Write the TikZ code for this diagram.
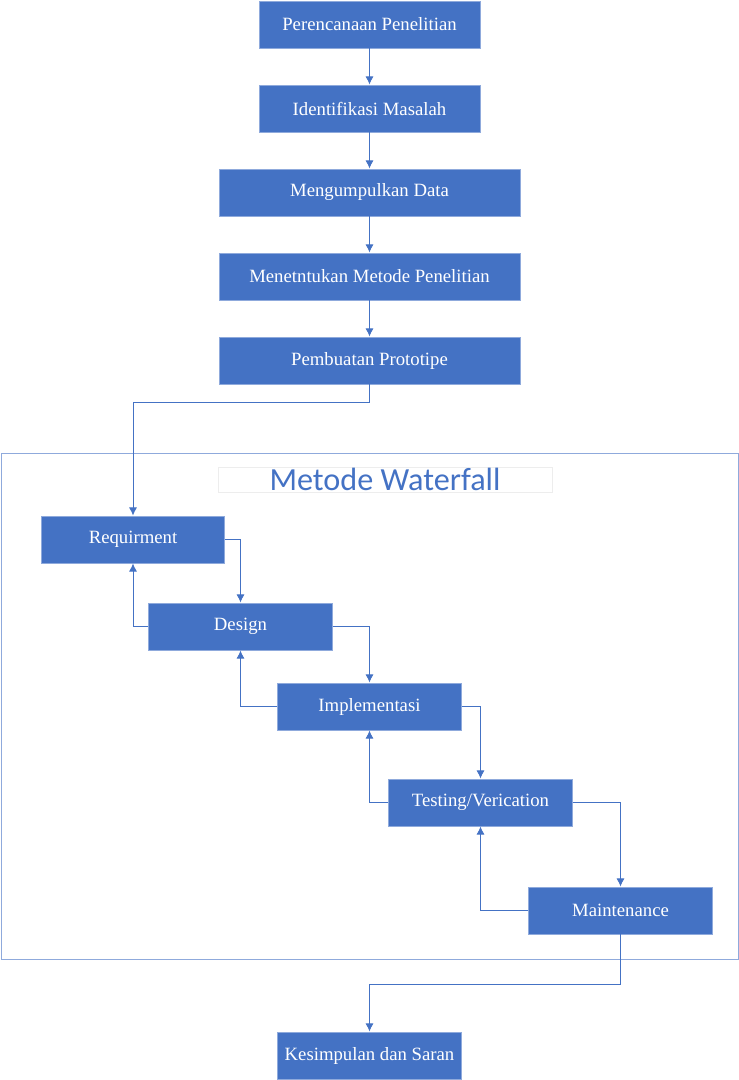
\documentclass[tikz,border=0pt]{standalone}
\usepackage{fontspec}
\setmainfont{Liberation Serif}
\newfontfamily\titlefont{Carlito}
\usetikzlibrary{arrows.meta, positioning}
\definecolor{boxblue}{HTML}{4472C4}
\definecolor{edgeblue}{HTML}{8FAADC}
\definecolor{titleedge}{HTML}{EDEDED}
\tikzset{
  >=latex,
  % Kotak tahapan
  step box/.style={draw=edgeblue, fill=boxblue, text=white, line width=0.8pt,
    minimum height=1.41cm, inner sep=0pt, font=\fontsize{16}{19}\selectfont},
  step wide/.style={step box, minimum width=6.63cm},
  step long/.style={step box, minimum width=9.03cm},
  step small/.style={step box, minimum width=5.5cm},
  % Bingkai waterfall
  frame/.style={draw=edgeblue, line width=0.8pt, minimum width=22.11cm, minimum height=15.18cm},
  title box/.style={draw=titleedge, line width=0.6pt, minimum width=10.02cm, minimum height=0.75cm,
    inner sep=0pt, text=boxblue, font=\titlefont\fontsize{27.5}{32}\selectfont},
  % Panah
  connect arrow/.style={-{Latex[length=7pt,width=7pt]}, line width=0.8pt, boxblue}
}
\begin{document}
\begin{tikzpicture}[x=0.03cm, y=-0.03cm]
    \useasboundingbox (0,0) rectangle (739,1080);
    \node[frame] (Frame) at (369.5,706) {};
    \node[title box] (Title) at (385,479.5) {Metode Waterfall};
    \node[step wide] (Plan)    at (369.5, 24.5) {Perencanaan Penelitian};
    \node[step wide] (Ident)   at (369.5,108.5) {Identifikasi Masalah};
    \node[step long] (Collect) at (369.5,192.5) {Mengumpulkan Data};
    \node[step long] (Method)  at (369.5,276.5) {Menetntukan Metode Penelitian};
    \node[step long] (Proto)   at (369.5,360.5) {Pembuatan Prototipe};
    \node[step small] (Req)    at (133,  539.5) {Requirment};
    \node[step small] (Des)    at (240.5,626.5) {Design};
    \node[step small] (Impl)   at (369.5,706.5) {Implementasi};
    \node[step small] (Test)   at (480.5,802.5) {Testing/Verication};
    \node[step small] (Maint)  at (620.5,910.5) {Maintenance};
    \node[step small] (Concl)  at (369.5,1055.5) {Kesimpulan dan Saran};
    \draw[connect arrow] (Plan)    -- (Ident);
    \draw[connect arrow] (Ident)   -- (Collect);
    \draw[connect arrow] (Collect) -- (Method);
    \draw[connect arrow] (Method)  -- (Proto);
    \draw[connect arrow] (Proto.south) -- ++(0,18) -| (Req.north);
    \draw[connect arrow] (Req.east)  -| (Des.north);
    \draw[connect arrow] (Des.east)  -| (Impl.north);
    \draw[connect arrow] (Impl.east) -| (Test.north);
    \draw[connect arrow] (Test.east) -| (Maint.north);
    \draw[connect arrow] (Des.west)   -| (Req.south);
    \draw[connect arrow] (Impl.west)  -| (Des.south);
    \draw[connect arrow] (Test.west)  -| (Impl.south);
    \draw[connect arrow] (Maint.west) -| (Test.south);
    \draw[connect arrow] (Maint.south) -- ++(0,50) -| (Concl.north);
  \end{tikzpicture}
\end{document}
